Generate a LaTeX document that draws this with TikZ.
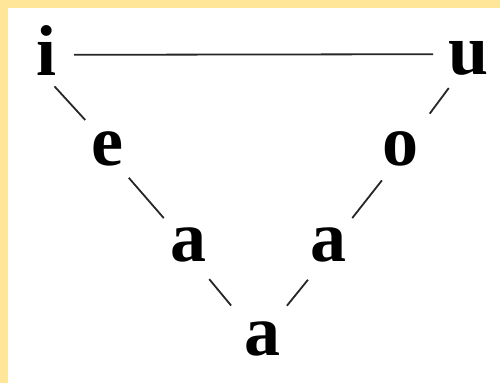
\documentclass[tikz,border=0pt]{standalone}
\usepackage{fontspec}
\setmainfont{Liberation Serif}
\definecolor{paper}{RGB}{255,230,153}
\begin{document}
\begin{tikzpicture}[x=1pt,y=-1pt,
  vowel/.style={circle,minimum size=72pt,inner sep=0pt,
    font=\fontsize{72}{72}\selectfont\bfseries},
  link/.style={line width=1.8pt,black!85}]
\fill[paper] (0,0) rectangle (500,383);
\fill[white] (8,8) rectangle (500,383);
\useasboundingbox (0,0) rectangle (500,383);

\node[vowel] (i) at (47,51) {i};
\node[vowel] (u) at (469,58) {u};
\node[vowel] (e) at (107.5,148.5) {e};
\node[vowel] (o) at (400,149) {o};
\node[vowel] (al) at (188,245) {a};
\node[vowel] (ar) at (328,245) {a};
\node[vowel] (ab) at (262,338.5) {a};

\draw[link,shorten <=-9pt] (i.-6) -- (u.174);
\draw[link] (i.-78) -- (e.128);
\draw[link] (e.-54) -- (al.132);
\draw[link,shorten <=4pt,shorten >=9pt] (al.-59) -- (ab.134);
\draw[link,shorten >=10pt] (u.-124) -- (o.49);
\draw[link] (o.-120) -- (ar.48);
\draw[link,shorten <=4pt,shorten >=5pt] (ar.-119) -- (ab.53);
\end{tikzpicture}
\end{document}
